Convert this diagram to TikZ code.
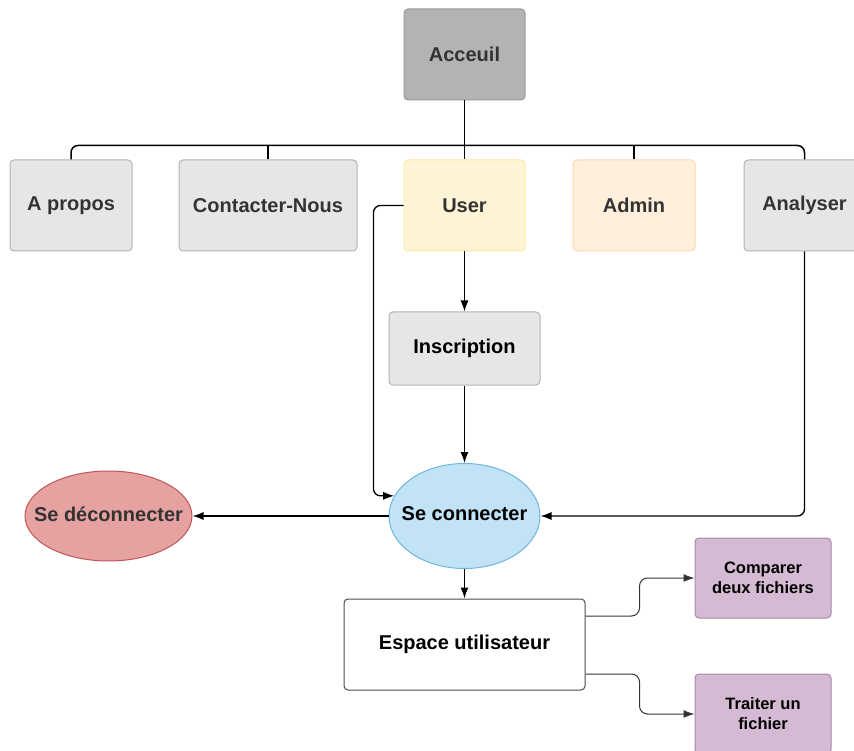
\documentclass[tikz,border=0pt]{standalone}
\usepackage{fontspec}
\setmainfont{Liberation Sans}
\usetikzlibrary{arrows.meta,shapes.geometric}

\definecolor{accFill}{HTML}{B3B3B3}
\definecolor{accLine}{HTML}{999999}
\definecolor{grayFill}{HTML}{E6E6E6}
\definecolor{grayLine}{HTML}{B3B3B3}
\definecolor{userFill}{HTML}{FFF5D6}
\definecolor{userLine}{HTML}{FBE8A6}
\definecolor{adminFill}{HTML}{FFEFDB}
\definecolor{adminLine}{HTML}{FBD9AE}
\definecolor{conFill}{HTML}{C2E3F5}
\definecolor{conLine}{HTML}{6DB6E0}
\definecolor{decFill}{HTML}{E6A1A1}
\definecolor{decLine}{HTML}{C2555B}
\definecolor{purFill}{HTML}{D5BAD3}
\definecolor{purLine}{HTML}{A887A8}
\definecolor{txtGray}{HTML}{333333}

\tikzset{
  box/.style={rectangle, rounded corners=4pt, inner sep=0pt, line width=1pt,
    font=\fontsize{20}{24}\selectfont\bfseries, align=center},
  graybox/.style={box, fill=grayFill, draw=grayLine, text=txtGray,
    minimum width=121pt, minimum height=91pt},
  ell/.style={ellipse, inner sep=0pt, line width=1pt},
  lbl/.style={font=\fontsize{20}{24}\selectfont\bfseries, inner sep=0pt},
  purbox/.style={box, fill=purFill, draw=purLine, text=black,
    minimum width=136pt, minimum height=80pt,
    font=\fontsize{16.5}{20}\selectfont\bfseries},
  tree/.style={line width=1.5pt, black, rounded corners=7pt},
  conn/.style={line width=1.3pt, black, rounded corners=7pt,
    -{Latex[length=11pt,width=8pt]}},
  thinconn/.style={line width=1pt, black!80, rounded corners=8pt,
    -{Latex[length=11pt,width=8pt]}}
}

\begin{document}
\begin{tikzpicture}[x=1pt,y=-1pt]
  \useasboundingbox (0,0) rectangle (854,751);
  \clip (0,0) rectangle (854,751);

  % top level
  \node[box, fill=accFill, draw=accLine, text=txtGray,
        minimum width=121pt, minimum height=91pt] (acc) at (464.5,54.5) {Acceuil};

  % second level
  \node[graybox, minimum width=122pt] (apr) at (71,205.5) {A propos};
  \node[graybox, minimum width=178pt] (ctn) at (268,205.5) {Contacter-Nous};
  \node[box, fill=userFill, draw=userLine, text=txtGray,
        minimum width=121pt, minimum height=91pt] (usr) at (464.5,205.5) {User};
  \node[box, fill=adminFill, draw=adminLine, text=txtGray,
        minimum width=122pt, minimum height=91pt] (adm) at (634,205.5) {Admin};
  \node[graybox] (ana) at (804.5,205.5) {Analyser};

  % registration and login
  \node[box, fill=grayFill, draw=grayLine, text=black,
        minimum width=151pt, minimum height=73pt] (ins) at (464.5,348.5) {Inscription};
  \node[ell, fill=conFill, draw=conLine,
        minimum width=151pt, minimum height=105pt] (con) at (464.5,516) {};
  \node[lbl, text=black] (conlbl) at (464.5,514) {Se connecter};
  \node[ell, fill=decFill, draw=decLine,
        minimum width=167pt, minimum height=90pt] (dec) at (108.5,516) {};
  \node[lbl, text=txtGray] (declbl) at (108.5,514) {Se déconnecter};

  % user space
  \node[box, fill=white, draw=black!70,
        minimum width=241pt, minimum height=91pt] (esp) at (464.5,644.5) {Espace utilisateur};
  \node[purbox] (cmp) at (763,578) {Comparer\\deux fichiers};
  \node[purbox] (trt) at (763,714) {Traiter un\\fichier};

  % tree connections
  \draw[tree] (acc.south) -- (usr.north);
  \draw[tree] (apr.north) -- ++(0,-14) -| (ana.north);
  \draw[tree] (ctn.north) -- ++(0,-14);
  \draw[tree] (adm.north) -- ++(0,-14);

  % flow connections
  \draw[conn] (usr.south) -- (ins.north);
  \draw[conn] (ins.south) -- (con.north);
  \draw[conn] (usr.west) -| ([xshift=-30pt]usr.west |- con.164) -- (con.164);
  \draw[conn] (ana.south) |- (con.east);
  \draw[conn] (con.west) -- (dec.east);
  \draw[conn] (con.south) -- (esp.north);
  \draw[thinconn] ([yshift=28.5pt]esp.east) -| ([xshift=-55pt]cmp.west) -- (cmp.west);
  \draw[thinconn] ([yshift=-29.5pt]esp.east) -| ([xshift=-55pt]trt.west) -- (trt.west);
\end{tikzpicture}
\end{document}
